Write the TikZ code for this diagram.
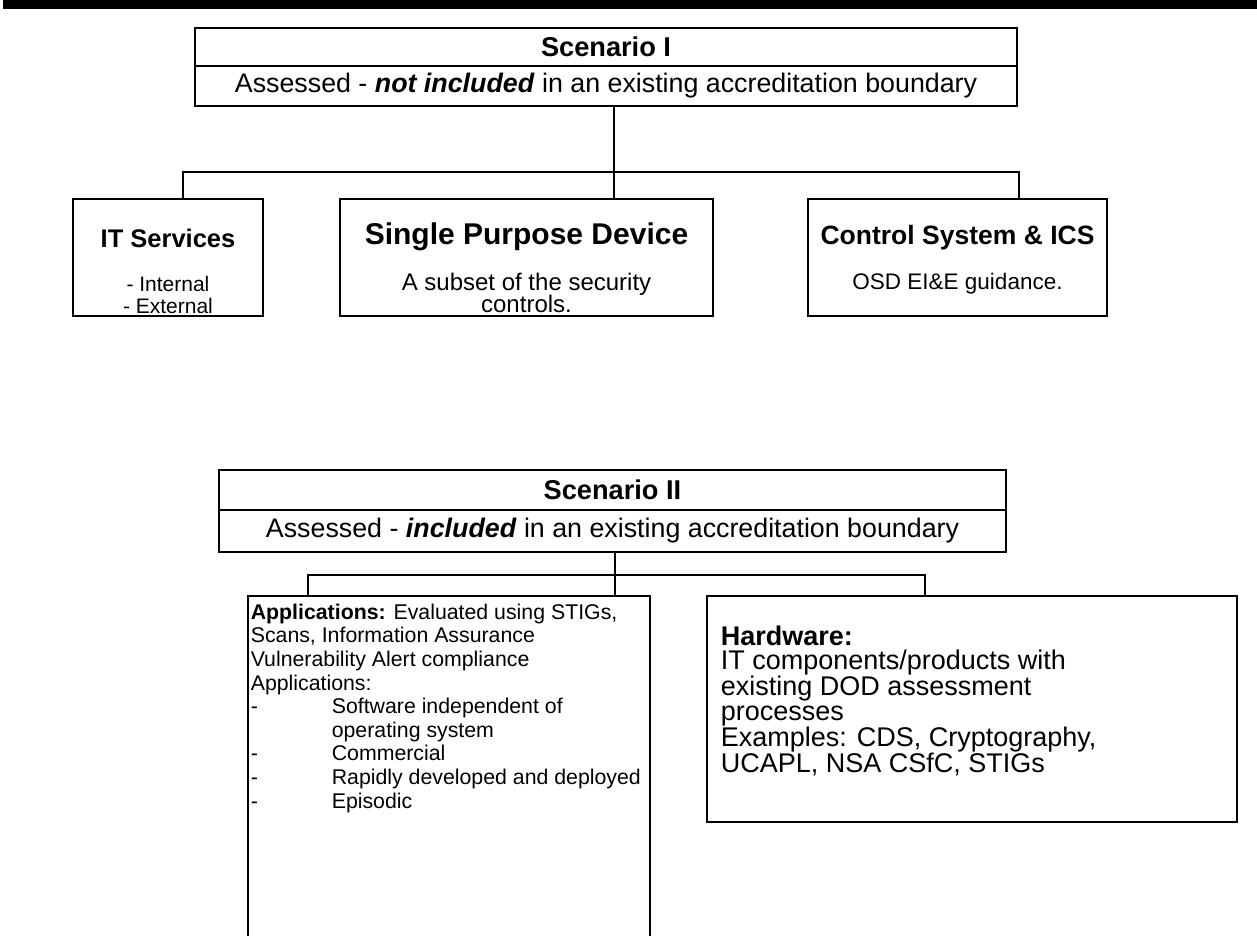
\documentclass[tikz,border=0pt]{standalone}
\usepackage{fontspec}
\setmainfont{Liberation Sans}
\begin{document}
\begin{tikzpicture}[x=1pt,y=-1pt,line width=1.6pt,
  box/.style={draw,line width=1.6pt,inner sep=0pt},
  ttl/.style={font=\fontsize{27.2}{30}\selectfont\bfseries},
  sub/.style={font=\fontsize{26.8}{30}\selectfont},
  bod/.style={align=center,inner sep=0pt},
  big/.style={font=\fontsize{21.3}{23.6}\selectfont,align=left,inner sep=0pt}]
\useasboundingbox (0,0) rectangle (1257,935);
\clip (0,0) rectangle (1257,935);
\fill (3,0) rectangle (1257,9);
% Scenario I
\node[box,ttl,minimum width=822pt,minimum height=38pt] (s1h) at (606,47) {Scenario I};
\node[box,sub,minimum width=822pt,minimum height=40pt] (s1s) at (606,86) {Assessed - \textbf{\textit{not included}} in an existing accreditation boundary};
\node[box,minimum width=190pt,minimum height=117pt] (it) at (168,257.5) {};
\node[box,minimum width=373pt,minimum height=117pt] (sp) at (526.5,257.5) {};
\node[box,minimum width=299pt,minimum height=117pt] (cs) at (957.5,257.5) {};
\node[inner sep=0pt,font=\fontsize{25.5}{28}\selectfont\bfseries] (itt) at (168,238) {IT Services};
\node[bod,font=\fontsize{21}{22}\selectfont] (itb) at (168,295) {- Internal\\- External};
\node[inner sep=0pt,font=\fontsize{30}{32}\selectfont\bfseries] (spt) at (526.5,237) {Single Purpose Device};
\node[bod,font=\fontsize{24}{22.5}\selectfont] (spb) at (526.5,293) {A subset of the security\\controls.};
\node[inner sep=0pt,font=\fontsize{26.5}{30}\selectfont\bfseries] (cst) at (957.5,238) {Control System \& ICS};
\node[bod,font=\fontsize{22.5}{24}\selectfont] (csb) at (957.5,284) {OSD EI\&E guidance.};
\coordinate (j1) at (614,172);
\coordinate (l1) at (183,172);
\coordinate (r1) at (1019,172);
\draw (s1s.south -| j1) -- (sp.north -| j1);
\draw (it.north -| l1) -- (l1) -- (r1) -- (cs.north -| r1);
% Scenario II
\node[box,ttl,minimum width=787pt,minimum height=40pt] (s2h) at (612.5,490) {Scenario II};
\node[box,sub,minimum width=787pt,minimum height=42pt] (s2s) at (612.5,531) {Assessed - \textbf{\textit{included}} in an existing accreditation boundary};
\node[box,minimum width=402pt,minimum height=364pt] (app) at (449,778) {};
\node[box,minimum width=530pt,minimum height=226pt] (hw) at (972,709) {};
\coordinate (j2) at (615,575);
\coordinate (l2) at (308,575);
\coordinate (r2) at (925,575);
\draw (s2s.south -| j2) -- (app.north -| j2);
\draw (app.north -| l2) -- (l2) -- (r2) -- (hw.north -| r2);
\node[big,anchor=north west] (appt) at (250,603) {\textbf{Applications:} Evaluated using STIGs,\\
Scans, Information Assurance\\
Vulnerability Alert compliance\\
Applications:\\
\makebox[81pt][l]{-}Software independent of\\
\hspace*{81pt}operating system\\
\makebox[81pt][l]{-}Commercial\\
\makebox[81pt][l]{-}Rapidly developed and deployed\\
\makebox[81pt][l]{-}Episodic};
\node[anchor=west,align=left,inner sep=0pt,font=\fontsize{27}{24.5}\selectfont] (hwt) at (720,701) {\textbf{Hardware:}\\
IT components/products with\\
existing DOD assessment\\
processes\\
Examples: CDS, Cryptography,\\
UCAPL, NSA CSfC, STIGs};
\end{tikzpicture}
\end{document}
